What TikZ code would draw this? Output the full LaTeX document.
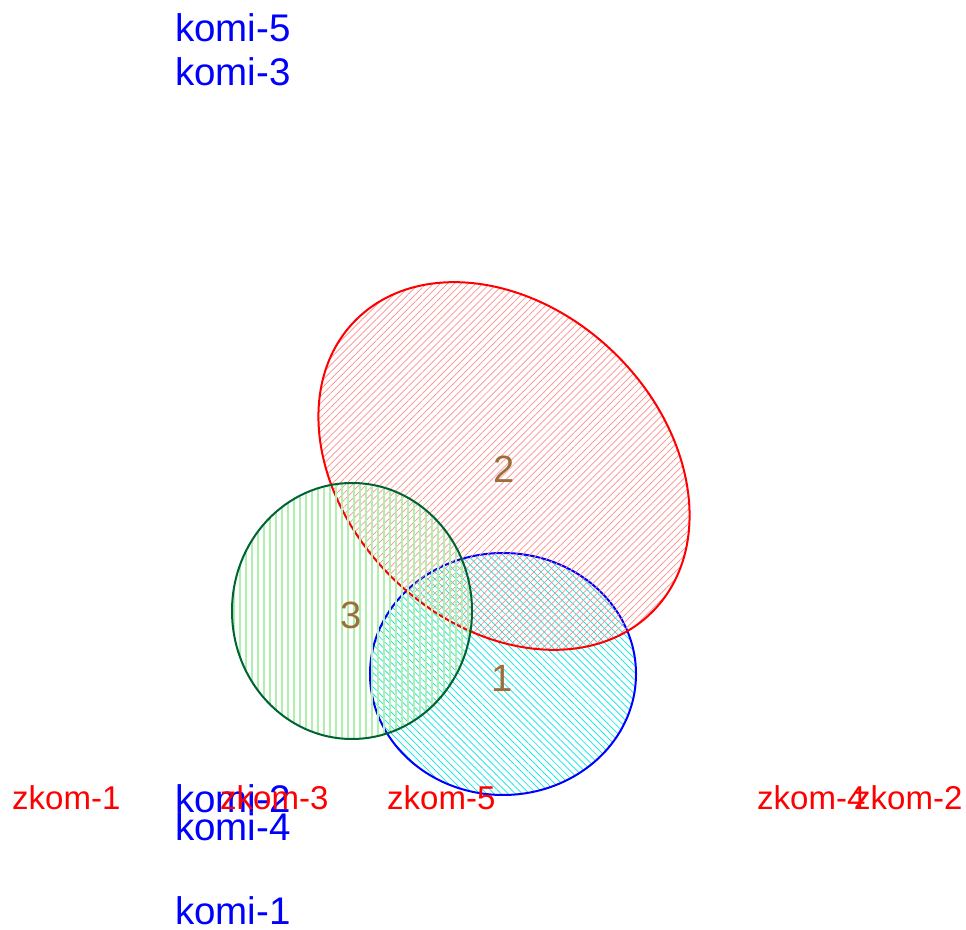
\documentclass[tikz,border=0pt]{standalone}
\usepackage{fontspec}
\setmainfont{Liberation Sans}
\usetikzlibrary{patterns.meta}
\definecolor{numbrown}{RGB}{158,110,58}
\definecolor{setgreen}{RGB}{0,100,50}
\definecolor{hatchred}{RGB}{255,140,140}
\definecolor{hatchgreen}{RGB}{175,240,175}
\definecolor{hatchcyan}{RGB}{0,230,230}

\begin{document}
\begin{tikzpicture}[
    x=1pt, y=1pt,
    komilab/.style={anchor=base west, inner sep=0pt, text=blue, font=\fontsize{38.5}{46}\selectfont},
    zkomlab/.style={anchor=base west, inner sep=0pt, text=red, font=\fontsize{33}{40}\selectfont},
    setnum/.style={anchor=base, inner sep=0pt, text=numbrown, font=\fontsize{38}{46}\selectfont},
    setline/.style={line width=2pt}
  ]
    \useasboundingbox (0,0) rectangle (966,929);

    % the three sets
    \draw[setline, draw=blue, pattern={Lines[angle=-45, distance=5pt, line width=0.7pt]}, pattern color=hatchcyan]
      (503,255) ellipse [x radius=133, y radius=121];
    \draw[setline, draw=red, rotate around={-44:(504,463)}, pattern={Lines[angle=45, distance=5pt, line width=0.7pt]}, pattern color=hatchred]
      (504,463) ellipse [x radius=208, y radius=158];
    \draw[setline, draw=setgreen, pattern={Lines[angle=90, distance=6pt, line width=1.3pt]}, pattern color=hatchgreen]
      (352,318) ellipse [x radius=120, y radius=128];

    \node[setnum] (n2) at (504,446) {2};
    \node[setnum] (n3) at (351,300) {3};
    \node[setnum] (n1) at (502,237) {1};

    % row labels
    \node[komilab] (komi5) at (175,887) {komi-5};
    \node[komilab] (komi3) at (175,843) {komi-3};
    \node[komilab] (komi2) at (175,117) {komi-2};
    \node[komilab] (komi4) at (175,89) {komi-4};
    \node[komilab] (komi1) at (175,5) {komi-1};

    % column labels
    \node[zkomlab] (zkom1) at (12,120) {zkom-1};
    \node[zkomlab] (zkom3) at (220,120) {zkom-3};
    \node[zkomlab] (zkom5) at (387,120) {zkom-5};
    \node[zkomlab] (zkom4) at (757,120) {zkom-4};
    \node[zkomlab] (zkom2) at (854,120) {zkom-2};
  \end{tikzpicture}
\end{document}
